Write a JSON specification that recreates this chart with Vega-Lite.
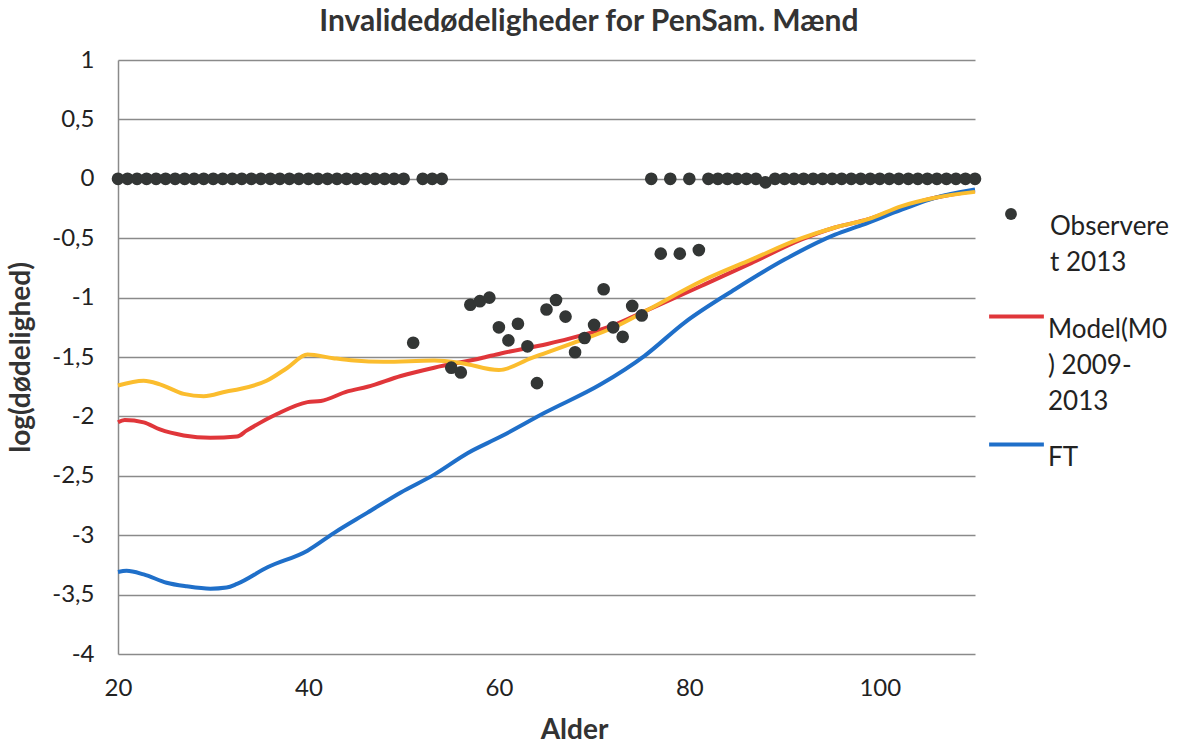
{
  "$schema": "https://vega.github.io/schema/vega-lite/v6.json",
  "autosize": {"type": "none"},
  "padding": {"left": 118, "top": 60, "right": 209, "bottom": 92},
  "width": 857,
  "height": 594,
  "background": "white",
  "config": {
    "font": "Lato",
    "view": {"stroke": null},
    "axis": {"labelFont": "Lato", "titleFont": "Lato", "labelColor": "#222", "titleColor": "#333"},
    "style": {"guide-label": {"lineHeight": 36}}
  },
  "title": {
    "text": "Invalidedødeligheder for PenSam. Mænd",
    "font": "Lato",
    "fontSize": 30,
    "fontWeight": "bold",
    "color": "#333",
    "anchor": "middle",
    "frame": "bounds",
    "offset": 11
  },
  "datasets": {
    "obs": [
      {"age": 20, "v": 0}, {"age": 21, "v": 0}, {"age": 22, "v": 0}, {"age": 23, "v": 0}, {"age": 24, "v": 0},
      {"age": 25, "v": 0}, {"age": 26, "v": 0}, {"age": 27, "v": 0}, {"age": 28, "v": 0}, {"age": 29, "v": 0},
      {"age": 30, "v": 0}, {"age": 31, "v": 0}, {"age": 32, "v": 0}, {"age": 33, "v": 0}, {"age": 34, "v": 0},
      {"age": 35, "v": 0}, {"age": 36, "v": 0}, {"age": 37, "v": 0}, {"age": 38, "v": 0}, {"age": 39, "v": 0},
      {"age": 40, "v": 0}, {"age": 41, "v": 0}, {"age": 42, "v": 0}, {"age": 43, "v": 0}, {"age": 44, "v": 0},
      {"age": 45, "v": 0}, {"age": 46, "v": 0}, {"age": 47, "v": 0}, {"age": 48, "v": 0}, {"age": 49, "v": 0},
      {"age": 50, "v": 0}, {"age": 51, "v": -1.38}, {"age": 52, "v": 0}, {"age": 53, "v": 0}, {"age": 54, "v": 0},
      {"age": 55, "v": -1.59}, {"age": 56, "v": -1.63}, {"age": 57, "v": -1.06}, {"age": 58, "v": -1.03},
      {"age": 59, "v": -1.0}, {"age": 60, "v": -1.25}, {"age": 61, "v": -1.36}, {"age": 62, "v": -1.22},
      {"age": 63, "v": -1.41}, {"age": 64, "v": -1.72}, {"age": 65, "v": -1.1}, {"age": 66, "v": -1.02},
      {"age": 67, "v": -1.16}, {"age": 68, "v": -1.46}, {"age": 69, "v": -1.34}, {"age": 70, "v": -1.23},
      {"age": 71, "v": -0.93}, {"age": 72, "v": -1.25}, {"age": 73, "v": -1.33}, {"age": 74, "v": -1.07},
      {"age": 75, "v": -1.15}, {"age": 76, "v": 0}, {"age": 77, "v": -0.63}, {"age": 78, "v": 0},
      {"age": 79, "v": -0.63}, {"age": 80, "v": 0}, {"age": 81, "v": -0.6}, {"age": 82, "v": 0},
      {"age": 83, "v": 0}, {"age": 84, "v": 0}, {"age": 85, "v": 0}, {"age": 86, "v": 0}, {"age": 87, "v": 0},
      {"age": 88, "v": -0.03}, {"age": 89, "v": 0}, {"age": 90, "v": 0}, {"age": 91, "v": 0}, {"age": 92, "v": 0},
      {"age": 93, "v": 0}, {"age": 94, "v": 0}, {"age": 95, "v": 0}, {"age": 96, "v": 0}, {"age": 97, "v": 0},
      {"age": 98, "v": 0}, {"age": 99, "v": 0}, {"age": 100, "v": 0}, {"age": 101, "v": 0}, {"age": 102, "v": 0},
      {"age": 103, "v": 0}, {"age": 104, "v": 0}, {"age": 105, "v": 0}, {"age": 106, "v": 0}, {"age": 107, "v": 0},
      {"age": 108, "v": 0}, {"age": 109, "v": 0}, {"age": 110, "v": 0}
    ],
    "lines": [
      {"s": "Model(M0) 2009-2013", "age": 20, "v": -2.05}, {"s": "Model(M0) 2009-2013", "age": 20.7, "v": -2.03},
      {"s": "Model(M0) 2009-2013", "age": 22.7, "v": -2.05}, {"s": "Model(M0) 2009-2013", "age": 24.4, "v": -2.11},
      {"s": "Model(M0) 2009-2013", "age": 26.9, "v": -2.16}, {"s": "Model(M0) 2009-2013", "age": 29.7, "v": -2.18},
      {"s": "Model(M0) 2009-2013", "age": 32.5, "v": -2.17}, {"s": "Model(M0) 2009-2013", "age": 33.5, "v": -2.12},
      {"s": "Model(M0) 2009-2013", "age": 36.7, "v": -1.98}, {"s": "Model(M0) 2009-2013", "age": 39.9, "v": -1.88},
      {"s": "Model(M0) 2009-2013", "age": 41.3, "v": -1.87}, {"s": "Model(M0) 2009-2013", "age": 44.1, "v": -1.79},
      {"s": "Model(M0) 2009-2013", "age": 46.2, "v": -1.75}, {"s": "Model(M0) 2009-2013", "age": 49.7, "v": -1.66},
      {"s": "Model(M0) 2009-2013", "age": 53.2, "v": -1.59}, {"s": "Model(M0) 2009-2013", "age": 58.1, "v": -1.51},
      {"s": "Model(M0) 2009-2013", "age": 60.2, "v": -1.47}, {"s": "Model(M0) 2009-2013", "age": 65.1, "v": -1.39},
      {"s": "Model(M0) 2009-2013", "age": 67.2, "v": -1.35}, {"s": "Model(M0) 2009-2013", "age": 72.1, "v": -1.23},
      {"s": "Model(M0) 2009-2013", "age": 74.9, "v": -1.13}, {"s": "Model(M0) 2009-2013", "age": 81.3, "v": -0.9},
      {"s": "Model(M0) 2009-2013", "age": 86.5, "v": -0.71}, {"s": "Model(M0) 2009-2013", "age": 91.8, "v": -0.51},
      {"s": "Model(M0) 2009-2013", "age": 95.3, "v": -0.41}, {"s": "Model(M0) 2009-2013", "age": 98.8, "v": -0.34},
      {"s": "Model(M0) 2009-2013", "age": 102.3, "v": -0.24}, {"s": "Model(M0) 2009-2013", "age": 105.8, "v": -0.16},
      {"s": "Model(M0) 2009-2013", "age": 110, "v": -0.1},
      {"s": "FT", "age": 20, "v": -3.31}, {"s": "FT", "age": 20.9, "v": -3.3}, {"s": "FT", "age": 22.7, "v": -3.33},
      {"s": "FT", "age": 25.1, "v": -3.4}, {"s": "FT", "age": 27.2, "v": -3.43}, {"s": "FT", "age": 29.7, "v": -3.45},
      {"s": "FT", "age": 31.4, "v": -3.44}, {"s": "FT", "age": 32.5, "v": -3.41}, {"s": "FT", "age": 35.7, "v": -3.27},
      {"s": "FT", "age": 39.9, "v": -3.13}, {"s": "FT", "age": 42.7, "v": -2.98}, {"s": "FT", "age": 46.2, "v": -2.81},
      {"s": "FT", "age": 49.7, "v": -2.64}, {"s": "FT", "age": 53.2, "v": -2.49}, {"s": "FT", "age": 56.7, "v": -2.31},
      {"s": "FT", "age": 60.2, "v": -2.17}, {"s": "FT", "age": 64.8, "v": -1.97}, {"s": "FT", "age": 70.7, "v": -1.73},
      {"s": "FT", "age": 75.3, "v": -1.49}, {"s": "FT", "age": 79.5, "v": -1.21}, {"s": "FT", "age": 84.8, "v": -0.93},
      {"s": "FT", "age": 90, "v": -0.68}, {"s": "FT", "age": 95.3, "v": -0.47}, {"s": "FT", "age": 98.1, "v": -0.39},
      {"s": "FT", "age": 102.3, "v": -0.26}, {"s": "FT", "age": 105.8, "v": -0.16}, {"s": "FT", "age": 110, "v": -0.09}
    ],
    "yellow": [
      {"age": 20, "v": -1.74}, {"age": 22.7, "v": -1.7}, {"age": 24.4, "v": -1.73}, {"age": 26.9, "v": -1.81},
      {"age": 29, "v": -1.83}, {"age": 31.4, "v": -1.79}, {"age": 32.8, "v": -1.77}, {"age": 35.6, "v": -1.7},
      {"age": 37.8, "v": -1.59}, {"age": 39.9, "v": -1.48}, {"age": 42.6, "v": -1.51}, {"age": 44.8, "v": -1.53},
      {"age": 47.9, "v": -1.54}, {"age": 53.2, "v": -1.53}, {"age": 56, "v": -1.55}, {"age": 60, "v": -1.61},
      {"age": 63.4, "v": -1.51}, {"age": 67.9, "v": -1.38}, {"age": 72.1, "v": -1.25}, {"age": 75.7, "v": -1.1},
      {"age": 81.3, "v": -0.86}, {"age": 86.5, "v": -0.68}, {"age": 91.8, "v": -0.5}, {"age": 95.3, "v": -0.41},
      {"age": 98.8, "v": -0.34}, {"age": 102.3, "v": -0.23}, {"age": 105.8, "v": -0.16}, {"age": 110, "v": -0.11}
    ]
  },
  "encoding": {
    "x": {
      "field": "age", "type": "quantitative",
      "scale": {"domain": [20, 110], "nice": false, "zero": false},
      "axis": {
        "title": "Alder", "titleFontSize": 28, "titleFontWeight": "bold", "titlePadding": 16, "titleX": 456,
        "values": [20, 40, 60, 80, 100], "labelFontSize": 24, "labelPadding": 22, "labelFlush": false,
        "ticks": false, "grid": false, "domain": false
      }
    },
    "y": {
      "field": "v", "type": "quantitative",
      "scale": {"domain": [-4, 1], "nice": false, "zero": false},
      "axis": {
        "title": "log(dødelighed)", "titleFontSize": 28, "titleFontWeight": "bold", "titlePadding": 16,
        "values": [-4, -3.5, -3, -2.5, -2, -1.5, -1, -0.5, 0, 0.5, 1],
        "labelExpr": "replace(toString(datum.value), '.', ',')",
        "labelFontSize": 24, "labelPadding": 24, "ticks": false,
        "grid": true, "gridColor": "#8a8a8a", "gridWidth": 1.5,
        "domain": true, "domainColor": "#8a8a8a", "domainWidth": 1.5
      }
    }
  },
  "layer": [
    {
      "data": {"name": "lines"},
      "mark": {"type": "line", "interpolate": "monotone", "strokeWidth": 4},
      "encoding": {
        "stroke": {
          "field": "s", "type": "nominal",
          "scale": {"domain": ["Model(M0) 2009-2013", "FT"], "range": ["#e0363a", "#1f6fc9"]},
          "legend": {
            "title": null, "orient": "none", "legendX": 869, "legendY": 227,
            "symbolType": "stroke", "symbolSize": 3000, "symbolStrokeWidth": 4,
            "labelFont": "Lato", "labelFontSize": 26, "labelColor": "#222", "labelOffset": 2,
            "labelLimit": 200, "padding": 0, "rowPadding": 0, "labelBaseline": "top",
            "labelExpr": "datum.label == 'FT' ? 'FT' : ['Model(M0', ') 2009-', '2013']"
          }
        }
      }
    },
    {
      "data": {"name": "yellow"},
      "mark": {"type": "line", "interpolate": "monotone", "strokeWidth": 4, "color": "#fbbd2e"}
    },
    {
      "data": {"name": "obs"},
      "transform": [{"calculate": "'Observeret 2013'", "as": "s"}],
      "mark": {"type": "point", "filled": true, "size": 160, "opacity": 1},
      "encoding": {
        "fill": {
          "field": "s", "type": "nominal",
          "scale": {"domain": ["Observeret 2013"], "range": ["#333635"]},
          "legend": {
            "title": null, "orient": "none", "legendX": 880, "legendY": 141,
            "symbolType": "circle", "symbolSize": 140,
            "labelFont": "Lato", "labelFontSize": 26, "labelColor": "#222", "labelOffset": 26,
            "labelLimit": 200, "padding": 0, "labelBaseline": "top",
            "labelExpr": "['Observere', 't 2013']"
          }
        }
      }
    }
  ]
}
